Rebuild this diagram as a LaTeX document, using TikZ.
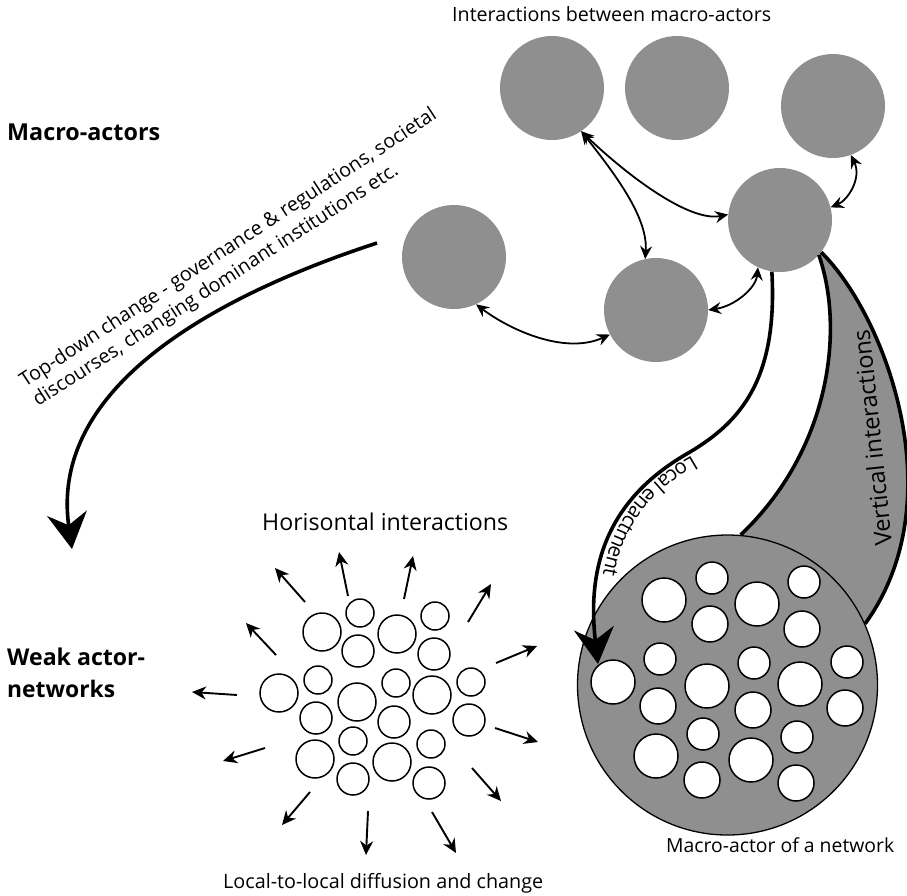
\documentclass[tikz,border=0pt]{standalone}
\usepackage{fontspec}
\setmainfont{Open Sans}
\usetikzlibrary{arrows.meta,decorations.text,calc}
\definecolor{mgray}{RGB}{143,143,143}
\newcommand{\fitw}[2]{\resizebox{#1}{!}{#2}}
\newcommand{\lefont}{\fontsize{20.5pt}{22pt}\selectfont}
\begin{document}
\begin{tikzpicture}[x=1pt,y=-1pt,
  macro/.style={circle,fill=mgray,minimum size=104pt,inner sep=0pt},
  bigactor/.style={circle,fill=mgray,draw=black,line width=1.3pt,minimum size=300pt,inner sep=0pt},
  wcirc/.style={draw=black,fill=white,line width=1.5pt},
  twoway/.style={line width=1.8pt,{Stealth[length=13pt,width=12pt,inset=4.5pt]}-{Stealth[length=13pt,width=12pt,inset=4.5pt]}},
  radiate/.style={line width=1.9pt,-{Stealth[length=14pt,width=13pt,inset=4.5pt]}},
  thickline/.style={line width=3.6pt},
  bigtip/.style={line width=3.6pt,-{Stealth[length=36pt,width=40pt,inset=12pt]}},
  lbl/.style={inner sep=0pt}
]
\useasboundingbox (0,0) rectangle (907,895);

% vertical interactions region (drawn first)
\fill[mgray] (821,252) .. controls (885,315) and (955,500) .. (864.5,624)
   -- (740.6,535.6) .. controls (830,450) and (845,330) .. (818.6,254.8) -- cycle;

% macro actors
\node[macro] (A) at (552,88) {};
\node[macro] (B) at (677,88) {};
\node[macro] (C) at (833,106) {};
\node[macro] (D) at (780,220) {};
\node[macro] (E) at (454,257) {};
\node[macro] (F) at (656,310) {};

% big actor
\node[bigactor] (G) at (727.5,685) {};

% vertical interaction boundaries
\draw[thickline] (D.322) .. controls (885,315) and (955,500) .. (G.24);
\draw[thickline] (D.318) .. controls (845,330) and (830,450) .. (G.85);

% interactions between macro-actors
\draw[twoway] (A.304) .. controls (630,178) and (690,222) .. (D.174);
\draw[twoway] (A.304) .. controls (620,180) and (648,220) .. (F.102);
\draw[twoway] (C.290) .. controls (862,178) and (848,200) .. (D.14);
\draw[twoway] (E.295) .. controls (510,330) and (565,355) .. (F.208);
\draw[twoway] (F.0) .. controls (735,306) and (756,288) .. (D.245);

% white circles inside big actor
\foreach \x/\y/\r in {664/600/22, 712/578/16, 757/604/22, 804/582/16, 710/624/18, 802/629/18,
  660/659/16, 613/682/22, 707/686/22, 754/663/16, 800/684/22, 847/662/16,
  658/706/18, 753/710/18, 845/708/18, 703/734/16, 797/737/16,
  656/756/22, 751/760/22, 702/780/18, 796/783/18}
  \draw[wcirc] (\x,\y) circle[radius=\r pt];

% weak actor-network circles
\foreach \x/\y/\r in {322/632/19, 360/613/14, 397/634/19, 435/616/14, 358/651/16, 434/654/16,
  318/680/14, 279/693/19, 357/702/19, 396/683/14, 432/695/19, 471/682/14,
  316/718/16, 394/722/16, 469/720/16, 353/741/14, 431/744/14,
  315/759/19, 392/762/19, 353/779/16, 429/783/16}
  \draw[wcirc] (\x,\y) circle[radius=\r pt];

% radiating arrows
\foreach \sx/\sy/\ex/\ey in {305/602/275/568, 348/596/339/552, 404/599/413/556, 468/622/491/584,
  496/663/537/646, 495/728/538/742, 472/768/501/801, 432/812/456/853, 368/811/366/855,
  310/792/282/825, 265/748/223/761, 237/695/192/692, 276/655/246/623}
  \draw[radiate] (\sx,\sy) -- (\ex,\ey);

% local enactment
\coordinate (lemid) at (690,452);
\coordinate (letip) at (598,664);
\draw[bigtip] (D.261) .. controls (778,380) and (740,422) .. (lemid)
   .. controls (612,496) and (586,560) .. (letip);
\path[decorate,decoration={text effects along path,raise=4pt,
   text={Local enactment},text align={left indent=0pt},
   text effects/.cd, text along path, every character/.style={font=\lefont,inner sep=0pt}}]
   (lemid) .. controls (612,496) and (586,560) .. (letip);

% top-down arrow
\coordinate (tds) at (377,243);
\coordinate (tde) at (72,549);
\draw[bigtip] (tds) .. controls (234.5,289.5) and (48,379) .. (tde);

% texts
\node[lbl,anchor=base west] (tint) at (452,21) {\fitw{319pt}{Interactions between macro-actors}};
\node[lbl,anchor=base west] (tmacro) at (7,140) {\fitw{153pt}{\bfseries Macro-actors}};
\node[lbl,anchor=base west] (tweak1) at (7,665) {\fitw{138pt}{\bfseries Weak actor-}};
\node[lbl,anchor=base west] (tweak2) at (7,697) {\fitw{108pt}{\bfseries networks}};
\node[lbl,anchor=base west] (thor) at (262,530) {\fitw{246pt}{Horisontal interactions}};
\node[lbl,anchor=base west] (tloc) at (223,888) {\fitw{320pt}{Local-to-local diffusion and change}};
\node[lbl,anchor=base west] (tmacnet) at (666,852) {\fitw{228pt}{Macro-actor of a network}};
\node[lbl,rotate=96] (tvert) at (872,438) {\fitw{217pt}{Vertical interactions}};
\node[lbl,anchor=base west,rotate=33.2] (ttd1) at (25,388) {\fitw{493pt}{Top-down change - governance \& regulations, societal}};
\node[lbl,anchor=base west,rotate=32.8] (ttd2) at (38,407) {\fitw{430pt}{discourses, changing dominant institutions etc.}};
\end{tikzpicture}
\end{document}
